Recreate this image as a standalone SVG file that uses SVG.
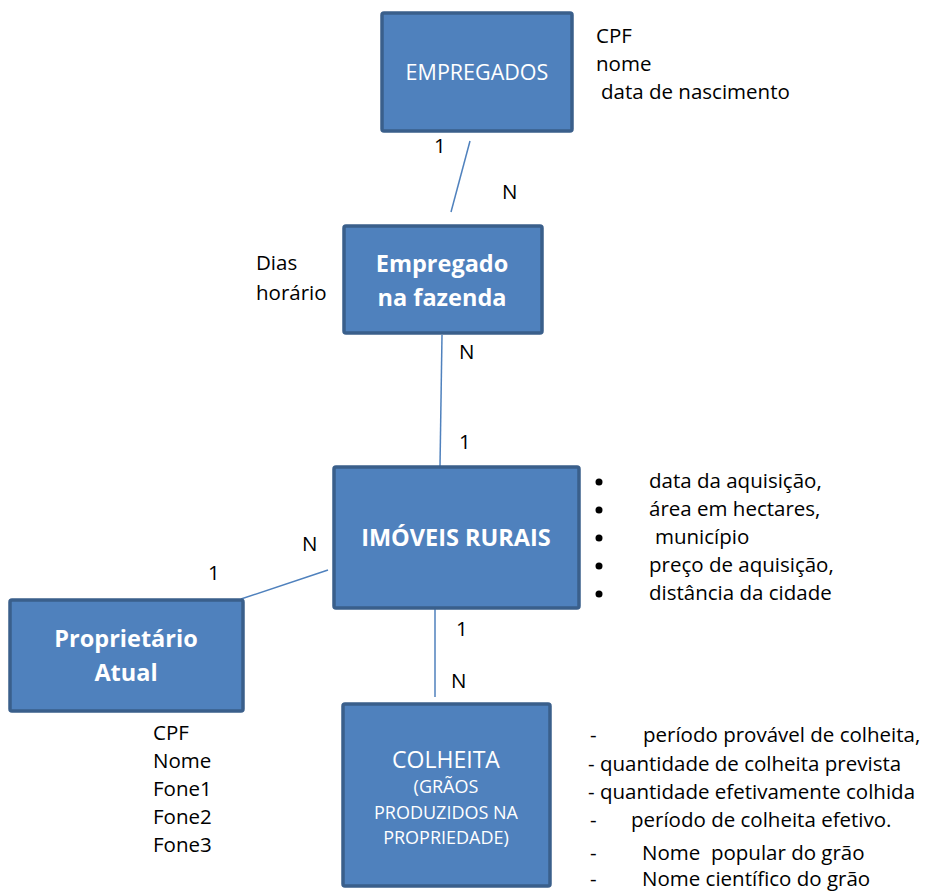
<svg xmlns="http://www.w3.org/2000/svg" width="936" height="893" viewBox="0 0 936 893">
<style>
.box{fill:#4F81BD;stroke:#3A5F8B;stroke-width:3.5}
.bt{fill:#fff;font-family:"Open Sans",Lato,sans-serif;text-anchor:middle}
.b{font-weight:bold;font-size:23.5px}
.t{font-family:"Open Sans",Lato,sans-serif;font-size:20.5px;fill:#000}
.c{stroke:#4F81BD;stroke-width:1.5;fill:none}
</style>
<rect width="936" height="893" fill="#fff"/>
<g id="connectors">
<line class="c" x1="470" y1="141" x2="451" y2="212"/>
<line class="c" x1="442" y1="335" x2="440" y2="466"/>
<line class="c" x1="241" y1="599" x2="328" y2="570"/>
<line class="c" x1="435" y1="584" x2="435" y2="697"/>
<text class="t" x="434" y="153">1</text>
<text class="t" x="502" y="199">N</text>
<text class="t" x="459" y="359">N</text>
<text class="t" x="459" y="449">1</text>
<text class="t" x="302" y="551">N</text>
<text class="t" x="208" y="580">1</text>
<text class="t" x="456" y="636">1</text>
<text class="t" x="451" y="688">N</text>
</g>
<g id="empregados">
<rect class="box" x="382" y="13" width="190" height="118" rx="2"/>
<text class="bt" x="477" y="80" font-size="21.5">EMPREGADOS</text>
<text class="t" x="596" y="43">CPF</text>
<text class="t" x="596" y="71">nome</text>
<text class="t" x="601" y="99">data de nascimento</text>
</g>
<g id="empregado-na-fazenda">
<rect class="box" x="344" y="226" width="198" height="107" rx="2"/>
<text class="bt b" x="442" y="272">Empregado</text>
<text class="bt b" x="442" y="306">na fazenda</text>
<text class="t" x="256" y="270">Dias</text>
<text class="t" x="256" y="300">horário</text>
</g>
<g id="imoveis-rurais">
<rect class="box" x="334" y="467" width="245" height="141" rx="2"/>
<text class="bt b" x="456" y="546">IMÓVEIS RURAIS</text>
<g class="t">
<circle cx="599" cy="482" r="3.5"/>
<circle cx="599" cy="510" r="3.5"/>
<circle cx="599" cy="538" r="3.5"/>
<circle cx="599" cy="566" r="3.5"/>
<circle cx="599" cy="594" r="3.5"/>
</g>
<text class="t" x="649" y="488">data da aquisição,</text>
<text class="t" x="649" y="516">área em hectares,</text>
<text class="t" x="655" y="544">município</text>
<text class="t" x="649" y="572">preço de aquisição,</text>
<text class="t" x="649" y="600">distância da cidade</text>
</g>
<g id="proprietario-atual">
<rect class="box" x="10" y="600" width="233" height="111" rx="2"/>
<text class="bt b" x="126" y="647">Proprietário</text>
<text class="bt b" x="126" y="681">Atual</text>
<text class="t" x="153" y="740">CPF</text>
<text class="t" x="153" y="768">Nome</text>
<text class="t" x="153" y="796">Fone1</text>
<text class="t" x="153" y="824">Fone2</text>
<text class="t" x="153" y="852">Fone3</text>
</g>
<g id="colheita">
<rect class="box" x="343" y="704" width="207" height="182" rx="2"/>
<text class="bt" x="446" y="768" font-size="23">COLHEITA</text>
<text class="bt" x="446" y="793" font-size="18">(GRÃOS</text>
<text class="bt" x="446" y="819" font-size="18">PRODUZIDOS NA</text>
<text class="bt" x="446" y="844" font-size="18">PROPRIEDADE)</text>
<text class="t" x="590" y="742">-</text>
<text class="t" x="643" y="742">período provável de colheita,</text>
<text class="t" x="588" y="771">- quantidade de colheita prevista</text>
<text class="t" x="588" y="799">- quantidade efetivamente colhida</text>
<text class="t" x="590" y="827">-</text>
<text class="t" x="631" y="827">período de colheita efetivo.</text>
<text class="t" x="590" y="860">-</text>
<text class="t" x="642" y="860" xml:space="preserve">Nome  popular do grão</text>
<text class="t" x="590" y="886">-</text>
<text class="t" x="642" y="886">Nome científico do grão</text>
</g>
</svg>
